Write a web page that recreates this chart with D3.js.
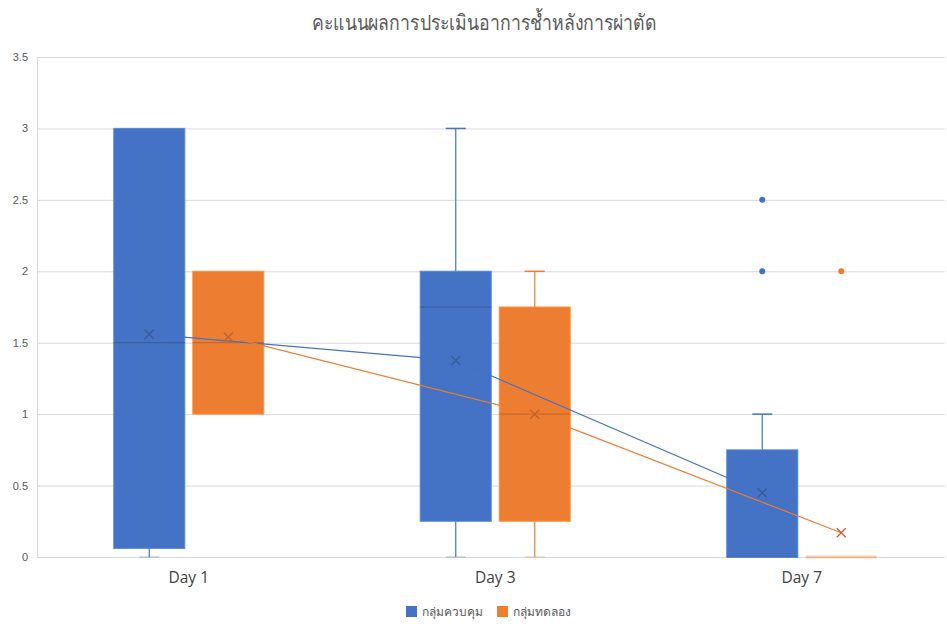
<!DOCTYPE html>
<html>
<head>
<meta charset="utf-8">
<script src="https://cdn.jsdelivr.net/npm/d3@7"></script>
<style>
  html, body { margin: 0; padding: 0; background: #fff; }
  svg { display: block; font-family: "Noto Sans", "DejaVu Sans", sans-serif; }
</style>
</head>
<body>
<svg id="chart" width="947" height="628"></svg>
<script>
// Box plot: symptom scores after surgery, control vs. experimental group
const title = "คะแนนผลการประเมินอาการช้ำหลังการผ่าตัด";
const days = ["Day 1", "Day 3", "Day 7"];
const groups = ["กลุ่มควบคุม", "กลุ่มทดลอง"];
const colors = ["#4472C4", "#ED7D31"];
const yTicks = [0, 0.5, 1, 1.5, 2, 2.5, 3, 3.5];

// Five-number summaries per group, one value per day
const minControl    = [0,    0,     0];
const q1Control     = [0.06, 0.25,  0];
const medianControl = [1.5,  1.75,  0];
const q3Control     = [3,    2,     0.75];
const maxControl    = [3,    3,     1];
const meanControl   = [1.56, 1.375, 0.45];
const outControl    = [[],   [],    [2.5, 2]];

const minTrial    = [1,    0,    0];
const q1Trial     = [1,    0.25, 0];
const medianTrial = [1.5,  1,    0];
const q3Trial     = [2,    1.75, 0];
const maxTrial    = [2,    2,    0];
const meanTrial   = [1.54, 1,    0.17];
const outTrial    = [[],   [],   [2]];

const series = [
  { name: groups[0], color: colors[0], min: minControl, q1: q1Control, median: medianControl, q3: q3Control, max: maxControl, mean: meanControl, out: outControl },
  { name: groups[1], color: colors[1], min: minTrial,   q1: q1Trial,   median: medianTrial,   q3: q3Trial,   max: maxTrial,   mean: meanTrial,   out: outTrial }
];

const svg = d3.select("#chart");
const plot = { left: 37, right: 945, top: 57, bottom: 557 };

const y = d3.scaleLinear().domain([0, 3.5]).range([plot.bottom, plot.top]);
const x = d3.scaleBand().domain(days).range([35.5, 955]).paddingInner(0).paddingOuter(0);
const inner = d3.scaleBand().domain(groups).range([-75, 75]).paddingInner(0.1013).paddingOuter(0);
const boxW = inner.bandwidth();
const cx = (d, g) => x(d) + x.bandwidth() / 2 + inner(g) + boxW / 2;

// Title
svg.append("text")
  .attr("x", 484.5).attr("y", 30)
  .attr("text-anchor", "middle")
  .attr("font-size", 21)
  .attr("textLength", 345)
  .attr("lengthAdjust", "spacingAndGlyphs")
  .attr("fill", "#595959")
  .text(title);

// Gridlines and y axis
const yAxis = d3.axisLeft(y).tickValues(yTicks).tickSize(-(plot.right - plot.left)).tickPadding(9)
  .tickFormat(d3.format("~g"));
const gy = svg.append("g").attr("transform", `translate(${plot.left},0)`).call(yAxis);
gy.select(".domain").attr("stroke", "#d9d9d9");
gy.selectAll(".tick line").attr("stroke", "#d9d9d9").attr("stroke-width", 1);
gy.selectAll(".tick text").attr("fill", "#595959").attr("font-size", 11)
  .attr("font-family", "'Liberation Sans', Arial, sans-serif");

// x axis labels
const xAxis = d3.axisBottom(x).tickSize(0).tickPadding(15);
const gx = svg.append("g").attr("transform", `translate(0,${plot.bottom})`).call(xAxis);
gx.select(".domain").remove();
gx.selectAll(".tick text").attr("fill", "#404040").attr("font-size", 15.5)
  .attr("font-family", "'Open Sans', 'Noto Sans', sans-serif");

// Boxes, whiskers, outliers
series.forEach(s => {
  const g = svg.append("g");
  const darker = d3.color(s.color).darker(0.5).formatHex();
  const lighter = d3.color(s.color).brighter(0.4).formatHex();
  days.forEach((d, i) => {
    const c = cx(d, s.name);
    // whiskers
    [[s.q3[i], s.max[i]], [s.q1[i], s.min[i]]].forEach(([from, to]) => {
      if (from === to) return;
      g.append("line").attr("x1", c).attr("x2", c).attr("y1", y(from)).attr("y2", y(to))
        .attr("stroke", s.color).attr("stroke-width", 1.2);
      g.append("line").attr("x1", c - 10).attr("x2", c + 10).attr("y1", y(to)).attr("y2", y(to))
        .attr("stroke", s.color).attr("stroke-width", 1.5).attr("opacity", to === 0 ? 0.3 : 1);
    });
    const flat = s.q3[i] === s.q1[i];
    if (flat) {
      // zero-height box collapses to a thick line
      g.append("line").attr("x1", c - boxW / 2).attr("x2", c + boxW / 2)
        .attr("y1", y(s.q1[i])).attr("y2", y(s.q1[i]))
        .attr("stroke", s.color).attr("stroke-opacity", 0.4).attr("stroke-width", 3);
    } else {
      g.append("rect")
        .attr("x", c - boxW / 2).attr("width", boxW)
        .attr("y", y(s.q3[i])).attr("height", y(s.q1[i]) - y(s.q3[i]))
        .attr("fill", s.color)
        .attr("stroke", lighter).attr("stroke-opacity", 0.8).attr("stroke-width", 1.2);
      g.append("line").attr("x1", c - boxW / 2).attr("x2", c + boxW / 2)
        .attr("y1", y(s.median[i])).attr("y2", y(s.median[i]))
        .attr("stroke", darker).attr("stroke-width", 1.2);
    }
    // outliers
    s.out[i].forEach(v => {
      g.append("circle").attr("cx", c).attr("cy", y(v)).attr("r", 3).attr("fill", s.color);
    });
  });
});

// Mean lines and markers
series.forEach(s => {
  const darker = d3.color(s.color).darker(0.6).formatHex();
  const pts = days.map((d, i) => [cx(d, s.name), y(s.mean[i])]);
  svg.append("path").attr("d", d3.line()(pts))
    .attr("fill", "none").attr("stroke", s.color).attr("stroke-width", 1.2);
  pts.forEach(([px, py]) => {
    const r = 4.5;
    svg.append("path")
      .attr("d", `M${px - r},${py - r}L${px + r},${py + r}M${px - r},${py + r}L${px + r},${py - r}`)
      .attr("stroke", darker).attr("stroke-width", 1.4).attr("fill", "none");
  });
});

// Legend
const legend = svg.append("g").attr("transform", "translate(406,606)");
const legendX = [0, 91];
groups.forEach((name, i) => {
  const item = legend.append("g").attr("transform", `translate(${legendX[i]},0)`);
  item.append("rect").attr("width", 11).attr("height", 11).attr("fill", colors[i]);
  item.append("text").attr("x", 16).attr("y", 10).attr("font-size", 12)
    .attr("fill", "#595959").text(name);
});
</script>
</body>
</html>
